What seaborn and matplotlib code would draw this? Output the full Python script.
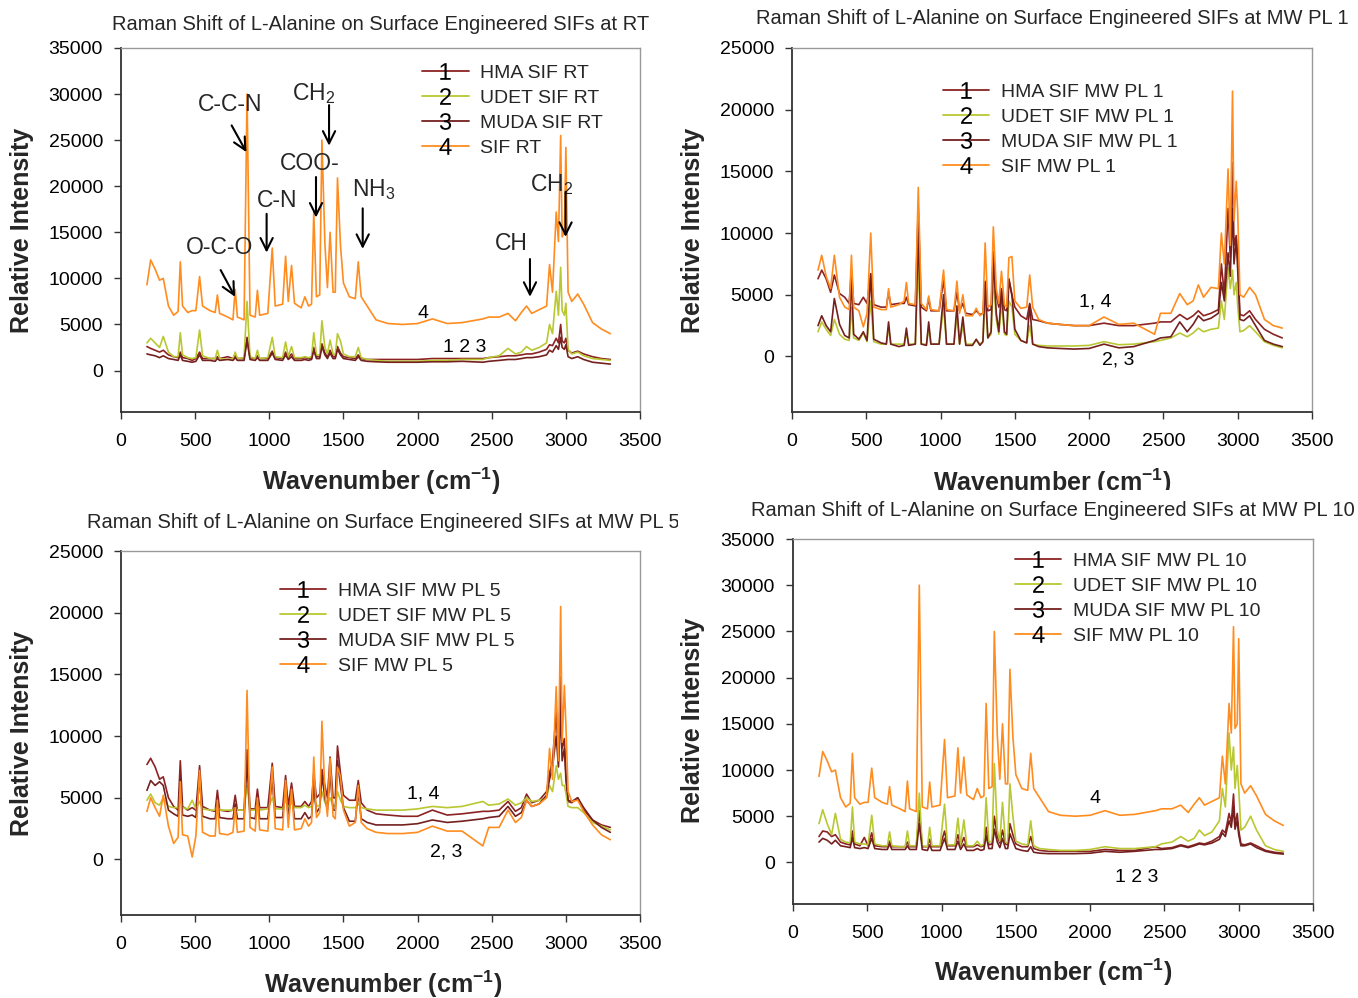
import numpy as np
import pandas as pd
import matplotlib
matplotlib.use("Agg")
import matplotlib.pyplot as plt
from matplotlib.lines import Line2D
from matplotlib.transforms import Bbox, TransformedBbox
import seaborn as sns

sns.set_theme(style="white")
plt.rcParams['font.family'] = ['Liberation Sans', 'DejaVu Sans']
plt.rcParams['mathtext.fontset'] = 'custom'
plt.rcParams['mathtext.rm'] = 'Liberation Sans'
plt.rcParams['mathtext.it'] = 'Liberation Sans:italic'
plt.rcParams['mathtext.bf'] = 'Liberation Sans:bold'

# shared wavenumber grid (cm-1), 10 values per row
wavenumber = [
    175, 200, 230, 260, 285, 320, 355, 385, 400, 415,
    450, 480, 505, 530, 550, 600, 635, 650, 665, 720,
    755, 770, 785, 830, 850, 870, 905, 920, 935, 990,
    1020, 1040, 1090, 1110, 1128, 1150, 1170, 1215, 1240, 1265,
    1285, 1300, 1318, 1340, 1355, 1375, 1392, 1410, 1430, 1445,
    1460, 1480, 1500, 1540, 1580, 1600, 1620, 1660, 1720, 1800,
    1900, 2000, 2100, 2200, 2300, 2440, 2480, 2550, 2610, 2660,
    2700, 2735, 2770, 2820, 2870, 2890, 2910, 2935, 2950, 2965,
    2975, 2990, 3000, 3015, 3040, 3080, 3120, 3180, 3240, 3300,
]

# ---- RT ----
rt_hma = [
    2600, 2400, 2200, 2000, 2200, 1700, 1500, 1400, 2000, 1400,
    1300, 1100, 1300, 2000, 1300, 1300, 1300, 1500, 1300, 1500,
    1300, 1600, 1300, 1300, 3600, 1400, 1300, 1600, 1300, 1300,
    2100, 1400, 1300, 2000, 1400, 1800, 1300, 1300, 1400, 1300,
    1300, 2500, 1500, 1500, 2900, 1900, 1500, 2200, 1500, 1500,
    2600, 1900, 1500, 1400, 1300, 1700, 1300, 1200, 1200, 1200,
    1200, 1200, 1300, 1300, 1300, 1300, 1400, 1500, 1600, 1600,
    1700, 1800, 1800, 2000, 2300, 2800, 2700, 3500, 3000, 5000,
    3200, 3000, 3500, 2200, 1900, 2100, 1800, 1500, 1300, 1200,
]
rt_udet = [
    3000, 3500, 3000, 2500, 3700, 2000, 1500, 1500, 4100, 1700,
    1400, 1300, 1400, 4400, 1600, 1300, 1300, 2200, 1300, 1200,
    1300, 2000, 1300, 1400, 7500, 1500, 1300, 2200, 1300, 1400,
    3600, 1500, 1400, 3100, 1500, 2600, 1400, 1400, 1500, 1400,
    1500, 4100, 1700, 1700, 5400, 2500, 1800, 3300, 1800, 1700,
    4000, 3200, 1800, 1500, 1500, 2500, 1400, 1200, 1100, 1000,
    1000, 1000, 1100, 1100, 1200, 1200, 1400, 1600, 2400, 1800,
    2000, 2600, 2200, 2500, 3000, 5000, 4000, 8600, 6000, 11200,
    6500, 6000, 7300, 2300, 1800, 2000, 1600, 1300, 1200, 1100,
]
rt_muda = [
    1800, 1700, 1600, 1400, 1600, 1300, 1200, 1100, 1700, 1100,
    1000, 900, 1000, 1700, 1100, 1100, 1000, 1300, 1100, 1200,
    1100, 1400, 1100, 1100, 3300, 1200, 1100, 1400, 1100, 1100,
    1900, 1200, 1100, 1700, 1200, 1500, 1100, 1100, 1200, 1100,
    1200, 2200, 1300, 1300, 2600, 1700, 1300, 1900, 1300, 1300,
    2300, 1700, 1300, 1200, 1100, 1500, 1100, 1000, 950, 900,
    900, 900, 950, 950, 1000, 900, 1000, 1100, 1200, 1200,
    1300, 1400, 1400, 1500, 1700, 2200, 2000, 2700, 2300, 3600,
    2500, 2300, 2800, 1500, 1300, 1500, 1200, 900, 800, 700,
]
rt_sif = [
    9300, 12000, 11000, 9800, 10000, 7000, 6000, 6400, 11800, 7000,
    6300, 6500, 6500, 10200, 7000, 6500, 6300, 8200, 6200, 5800,
    5500, 8800, 5800, 5500, 30000, 6000, 5800, 8700, 6000, 6200,
    13300, 7000, 7200, 12400, 7500, 11400, 7300, 6800, 8000, 7000,
    7200, 17200, 8000, 8200, 25000, 13800, 9000, 15000, 8500, 8500,
    20900, 13600, 9500, 8000, 7800, 11800, 8000, 7000, 5500, 5100,
    5000, 5100, 5600, 5100, 5200, 5600, 5800, 5800, 6200, 5400,
    6300, 7000, 6200, 6600, 7000, 11500, 8500, 17200, 14000, 25500,
    14500, 15000, 24200, 8500, 7500, 8300, 7200, 5200, 4500, 4000,
]

# ---- MW PL 1 ----
pl1_hma = [
    6300, 7000, 6300, 5200, 6600, 5100, 4800, 4300, 7000, 4300,
    4200, 4800, 4300, 6700, 4200, 4000, 4000, 5200, 4200, 4300,
    4300, 4800, 4200, 4100, 12000, 4000, 3700, 4700, 3700, 3700,
    6200, 3700, 3700, 5200, 3700, 4300, 3500, 3400, 3700, 3400,
    3500, 6100, 3700, 3800, 8500, 5000, 4000, 5500, 3800, 3700,
    6300, 5000, 4000, 3300, 3000, 4300, 3000, 2900, 2700, 2600,
    2500, 2500, 2700, 2500, 2500, 2700, 2800, 2800, 3400, 3000,
    3300, 3700, 3300, 3500, 3800, 7500, 5000, 12000, 8000, 15700,
    9000, 9800, 8000, 3400, 3300, 3700, 3000, 2200, 1800, 1500,
]
pl1_udet = [
    2000, 2800, 2200, 1700, 3000, 1800, 1400, 1300, 4000, 1500,
    1300, 1900, 1200, 4500, 1200, 1000, 1000, 2300, 1000, 1000,
    1000, 1900, 1000, 1000, 7300, 1000, 1000, 2300, 1000, 1000,
    4000, 1000, 1000, 3300, 1000, 2500, 1000, 1000, 1300, 1000,
    1200, 5000, 1500, 1800, 6300, 3000, 1800, 4300, 1800, 1700,
    4500, 4000, 1800, 1300, 1100, 2500, 1000, 900, 850, 850,
    850, 900, 1200, 950, 1000, 1200, 1300, 1500, 1900, 1600,
    1900, 2300, 2000, 2200, 2300, 4500, 3000, 7200, 5500, 7000,
    5000, 6000, 4100, 2000, 2100, 2500, 2000, 1200, 900, 700,
]
pl1_muda = [
    2500, 3300, 2500, 2000, 4700, 2600, 1700, 1500, 6500, 1800,
    1400, 2000, 1300, 6700, 1400, 1100, 1000, 2800, 1000, 800,
    900, 2300, 900, 1000, 10000, 1000, 900, 2800, 1000, 1000,
    5000, 1000, 1000, 4100, 1000, 3200, 900, 900, 1400, 900,
    1200, 6000, 1500, 2000, 8000, 3500, 2000, 5400, 2000, 1800,
    6200, 5000, 2200, 1300, 1100, 4200, 1000, 800, 700, 650,
    600, 650, 1000, 700, 800, 1300, 1500, 1600, 2800, 2000,
    2600, 3300, 2900, 3100, 3500, 6000, 4500, 8400, 6500, 12000,
    7500, 9500, 7000, 3000, 2900, 3300, 2500, 1300, 1000, 800,
]
pl1_sif = [
    7000, 8200, 6500, 5500, 8200, 4800, 4000, 3800, 8200, 4000,
    3700, 2400, 3500, 10000, 4000, 3800, 3800, 5500, 4000, 4200,
    4500, 6000, 4300, 4200, 13700, 4300, 3800, 4900, 3800, 3700,
    7000, 3800, 3700, 6100, 3500, 5000, 3300, 3300, 3900, 3300,
    3500, 9200, 4000, 4200, 10500, 5500, 4300, 6900, 4200, 4000,
    8000, 8100, 4500, 3900, 4000, 6600, 4000, 3000, 2700, 2600,
    2500, 2500, 3200, 2600, 2700, 1800, 3500, 3500, 5100, 4200,
    4500, 5800, 4800, 5600, 5500, 10000, 7500, 15200, 9000, 21500,
    11000, 14200, 11700, 5000, 4800, 5600, 5000, 3000, 2500, 2300,
]

# ---- MW PL 5 ----
pl5_hma = [
    7700, 8200, 7500, 6500, 6700, 5000, 4300, 4000, 8000, 4300,
    4000, 4200, 4000, 7600, 4300, 4000, 3900, 5600, 4000, 3900,
    4000, 5200, 4000, 4000, 8900, 4100, 4100, 5700, 4200, 4200,
    7800, 4300, 4200, 6800, 4300, 6200, 4300, 4300, 4700, 4300,
    4700, 7000, 5000, 5300, 7300, 6000, 5000, 8300, 5000, 5000,
    9200, 7000, 5200, 4800, 4800, 6400, 4600, 4000, 3700, 3600,
    3500, 3500, 4000, 3600, 3700, 3900, 3900, 4000, 4700, 3900,
    4200, 5300, 4600, 4800, 5500, 7000, 8000, 11900, 8000, 14800,
    9000, 9800, 6500, 4700, 4600, 5000, 4000, 3200, 2800, 2600,
]
pl5_udet = [
    4800, 5300, 4600, 4400, 5000, 4300, 4200, 4200, 5000, 4200,
    4100, 4800, 4100, 4700, 4100, 4000, 4000, 4400, 4000, 4000,
    4000, 4300, 4000, 4000, 6000, 4000, 4000, 4600, 4000, 4100,
    5000, 4100, 4100, 4800, 4200, 4600, 4200, 4200, 4400, 4200,
    4300, 5200, 4300, 4400, 5500, 4600, 4400, 5000, 4400, 4300,
    5500, 4800, 4300, 4200, 4200, 4500, 4200, 4100, 4000, 4000,
    4000, 4100, 4300, 4200, 4300, 4700, 4400, 4500, 4900, 4400,
    4600, 5000, 4700, 4800, 5000, 6000, 5500, 7600, 6500, 7000,
    6000, 6000, 5400, 4300, 4200, 4200, 3800, 3000, 2700, 2400,
]
pl5_muda = [
    5600, 6400, 6000, 6300, 6000, 4000, 3700, 3500, 6500, 3600,
    3500, 3600, 3400, 6500, 3500, 3300, 3300, 4800, 3400, 3300,
    3300, 4500, 3300, 3300, 8000, 3400, 3300, 5000, 3300, 3300,
    6500, 3400, 3400, 6000, 3400, 5500, 3300, 3300, 3800, 3300,
    3500, 6000, 3800, 4200, 6800, 5000, 4000, 7000, 4000, 4000,
    8000, 6000, 4200, 3100, 3100, 5500, 3300, 3000, 2800, 2800,
    2800, 2900, 3200, 3000, 3100, 3300, 3400, 3500, 4300, 3500,
    3800, 4800, 4300, 4500, 5200, 6500, 7500, 10000, 7500, 12000,
    8000, 9000, 7000, 4800, 4700, 5000, 4200, 3200, 2600, 2200,
]
pl5_sif = [
    3900, 5000, 4200, 3500, 5200, 2700, 1300, 1800, 6300, 2000,
    1900, 200, 1900, 7200, 2200, 1900, 1900, 4800, 2100, 2000,
    2200, 4200, 2200, 2300, 13700, 2600, 2300, 5000, 2400, 2300,
    7500, 2500, 2400, 6400, 2600, 5700, 2400, 2500, 3300, 2700,
    3000, 8300, 3400, 3800, 11200, 5500, 3500, 8200, 3500, 3300,
    7500, 6700, 4000, 2700, 3000, 6000, 3000, 2500, 2200, 2100,
    2100, 2200, 2700, 2300, 2300, 1100, 2600, 2600, 4000, 3000,
    3400, 4800, 4300, 4500, 5000, 9000, 6500, 14000, 8000, 20500,
    9500, 14100, 11000, 5500, 4700, 4800, 3900, 2800, 2000, 1600,
]

# ---- MW PL 10 ----
pl10_hma = [
    2800, 3400, 3300, 2800, 3000, 2200, 2000, 1900, 3400, 2000,
    1800, 2700, 1800, 3200, 1800, 1700, 1700, 2300, 1700, 1700,
    1700, 2200, 1700, 1700, 5600, 1700, 1700, 2500, 1700, 1700,
    3400, 1800, 1800, 3000, 1800, 2700, 1700, 1700, 1900, 1700,
    1800, 3800, 1900, 2000, 5000, 2800, 2100, 3500, 2000, 1900,
    4200, 3000, 2000, 1700, 1700, 2800, 1500, 1300, 1200, 1200,
    1200, 1200, 1400, 1300, 1300, 1700, 1500, 1600, 1900, 1700,
    1900, 2100, 2000, 2300, 2800, 3500, 3200, 5300, 4300, 7400,
    4000, 5300, 3500, 2000, 1900, 2100, 1800, 1300, 1100, 1000,
]
pl10_udet = [
    4200, 5700, 4200, 3000, 5300, 2500, 2200, 2100, 6000, 2200,
    2000, 2000, 1900, 5100, 2000, 1800, 1800, 3300, 1800, 1700,
    1700, 3400, 1800, 1800, 7500, 1800, 1700, 3800, 1800, 1800,
    6300, 1900, 1900, 4800, 1900, 4600, 1800, 1800, 2300, 1800,
    2000, 7000, 2200, 2300, 10700, 3500, 2300, 6500, 2200, 2100,
    8500, 5000, 2300, 2000, 1900, 4500, 1800, 1500, 1400, 1300,
    1300, 1400, 1700, 1500, 1500, 1700, 2000, 2200, 2800, 2300,
    2600, 3500, 2900, 3300, 4500, 8000, 6000, 14000, 10000, 12500,
    8000, 10500, 8000, 3500, 3800, 5000, 3500, 1800, 1400, 1200,
]
pl10_muda = [
    2200, 2600, 2400, 2000, 2400, 1800, 1700, 1600, 2700, 1600,
    1500, 1600, 1500, 2600, 1500, 1400, 1400, 2000, 1400, 1400,
    1400, 1800, 1400, 1400, 4200, 1400, 1300, 1900, 1300, 1300,
    2600, 1400, 1400, 2300, 1400, 2000, 1300, 1300, 1500, 1300,
    1400, 2900, 1500, 1500, 3600, 2200, 1600, 2600, 1500, 1500,
    3100, 2300, 1500, 1300, 1200, 1700, 1100, 1000, 950, 950,
    950, 1000, 1200, 1100, 1200, 1400, 1400, 1500, 1800, 1600,
    1800, 2000, 1900, 2100, 2500, 3200, 2800, 4500, 3800, 6000,
    3600, 4500, 3000, 1800, 1800, 2000, 1600, 1200, 1000, 900,
]
pl10_sif = list(rt_sif)  # the SIF spectrum is the same one as at RT

series_nums = ['1', '2', '3', '4']
series_colors = ['#8B2323', '#B9C832', '#74201F', '#FF8C1F']

panels = [
    dict(title='Raman Shift of L-Alanine on Surface Engineered SIFs at RT',
         names=['HMA SIF RT', 'UDET SIF RT', 'MUDA SIF RT', 'SIF RT'],
         data=[rt_hma, rt_udet, rt_muda, rt_sif], ytop=35000,
         rect=[121, 48, 640, 412], leg=(0.580, 0.955),
         tags=[('4', 2036, 6200), ('1 2 3', 2320, 2500)]),
    dict(title='Raman Shift of L-Alanine on Surface Engineered SIFs at MW PL 1',
         names=['HMA SIF MW PL 1', 'UDET SIF MW PL 1', 'MUDA SIF MW PL 1', 'SIF MW PL 1'],
         data=[pl1_hma, pl1_udet, pl1_muda, pl1_sif], ytop=25000,
         rect=[792, 48, 1312, 412], leg=(0.290, 0.903),
         tags=[('1, 4', 2040, 4450), ('2, 3', 2195, -300)]),
    dict(title='Raman Shift of L-Alanine on Surface Engineered SIFs at MW PL 5',
         names=['HMA SIF MW PL 5', 'UDET SIF MW PL 5', 'MUDA SIF MW PL 5', 'SIF MW PL 5'],
         data=[pl5_hma, pl5_udet, pl5_muda, pl5_sif], ytop=25000,
         rect=[121, 551, 640, 915], leg=(0.306, 0.913),
         tags=[('1, 4', 2036, 5340), ('2, 3', 2190, 570)]),
    dict(title='Raman Shift of L-Alanine on Surface Engineered SIFs at MW PL 10',
         names=['HMA SIF MW PL 10', 'UDET SIF MW PL 10', 'MUDA SIF MW PL 10', 'SIF MW PL 10'],
         data=[pl10_hma, pl10_udet, pl10_muda, pl10_sif], ytop=35000,
         rect=[793, 539, 1313, 904], leg=(0.426, 0.963),
         tags=[('4', 2032, 6900), ('1 2 3', 2315, -1600)]),
]

# panel centres for titles / labels (pixels): title x, title y, xlabel y, ylabel x, ylabel y
text_pos = [
    (381, 24, 481, 22, 230),
    (1052, 19, 482, 693, 230),
    (383, 522, 984, 22, 733),
    (1053, 510, 972, 693, 720),
]

W, H = 1358, 998
fig = plt.figure(figsize=(W / 100, H / 100), dpi=100)


def px(x, y):
    return x / W, 1 - y / H


for p, (cx, ty, xly, ylx, yly) in zip(panels, text_pos):
    l, t, r, b = p['rect']
    ax = fig.add_axes([l / W, 1 - b / H, (r - l) / W, (b - t) / H])
    rows = []
    for name, vals in zip(p['names'], p['data']):
        assert len(vals) == len(wavenumber)
        rows.append(pd.DataFrame({'wavenumber': wavenumber, 'intensity': vals, 'series': name}))
    df = pd.concat(rows, ignore_index=True)
    sns.lineplot(data=df, x='wavenumber', y='intensity', hue='series',
                 palette=dict(zip(p['names'], series_colors)), estimator=None,
                 sort=False, legend=False, lw=1.2, ax=ax)
    ax.set_xlim(0, 3500)
    ax.set_ylim(-4500, p['ytop'])
    ax.set_xticks(np.arange(0, 3501, 500))
    ax.set_yticks(np.arange(0, p['ytop'] + 1, 5000))
    ax.tick_params(axis='both', labelsize=14, bottom=True, left=True,
                   direction='out', length=5, width=1, colors='#333333',
                   labelcolor='black')
    ax.tick_params(axis='x', pad=10)
    ax.tick_params(axis='y', pad=8)
    ax.set_xlabel('')
    ax.set_ylabel('')
    for side in ['left', 'bottom']:
        ax.spines[side].set_color('#333333')
        ax.spines[side].set_linewidth(1.3)
    for side in ['top', 'right']:
        ax.spines[side].set_color('#999999')
        ax.spines[side].set_linewidth(1.0)

    handles = [Line2D([], [], color=c, lw=1.3, marker='$\\mathrm{' + n + '}$',
                      markersize=12, markerfacecolor='black', markeredgecolor='black',
                      markeredgewidth=0)
               for c, n in zip(series_colors, series_nums)]
    ax.legend(handles, p['names'], loc='upper left', bbox_to_anchor=p['leg'],
              frameon=False, fontsize=14, handlelength=2.4, handletextpad=0.6,
              labelspacing=0.38, borderpad=0, borderaxespad=0, numpoints=1)

    for txt, xv, yv in p['tags']:
        ax.text(xv, yv, txt, fontsize=14, ha='center', va='center', color='black')

    title = fig.text(*px(cx, ty), p['title'], fontsize=14.5, ha='center', va='center')
    xl = fig.text(*px(cx, xly), 'Wavenumber (cm$^{\\mathbf{-1}}$)', fontsize=18,
                  fontweight='bold', ha='center', va='center')
    fig.text(*px(ylx, yly), 'Relative Intensity', fontsize=18, fontweight='bold',
             rotation=90, ha='center', va='center')
    if p is panels[2]:
        title.set_clip_box(TransformedBbox(Bbox([[0, 0], [678 / W, 1]]), fig.transFigure))
        title.set_clip_on(True)
    if p is panels[1]:
        xl.set_clip_box(TransformedBbox(Bbox([[0, 1 - 490 / H], [1, 1]]), fig.transFigure))
        xl.set_clip_on(True)

    if p is panels[0]:
        # band assignments with arrows
        marks = [
            ('C-C-N', 735, 28900, 746, 26600, 846, 23700),
            ('CH$_2$', 1301, 30100, 1403, 28800, 1403, 24400),
            ('COO-', 1274, 22500, 1315, 21000, 1315, 16600),
            ('C-N', 1052, 18500, 982, 17000, 982, 12800),
            ('NH$_3$', 1706, 19600, 1630, 17600, 1630, 13200),
            ('O-C-O', 668, 13400, 672, 10900, 769, 8000),
            ('CH', 2630, 13800, 2758, 12100, 2758, 8000),
            ('CH$_2$', 2906, 20200, 2998, 19400, 2998, 14500),
        ]
        for txt, tx, tyv, ax0, ay0, ax1, ay1 in marks:
            ax.text(tx, tyv, txt, fontsize=16.5, ha='center', va='center')
            ax.annotate('', xy=(ax1, ay1), xytext=(ax0, ay0),
                        arrowprops=dict(arrowstyle='->', lw=1.5, color='black',
                                        mutation_scale=22, shrinkA=0, shrinkB=0))

fig.savefig('out.png', dpi=100)
